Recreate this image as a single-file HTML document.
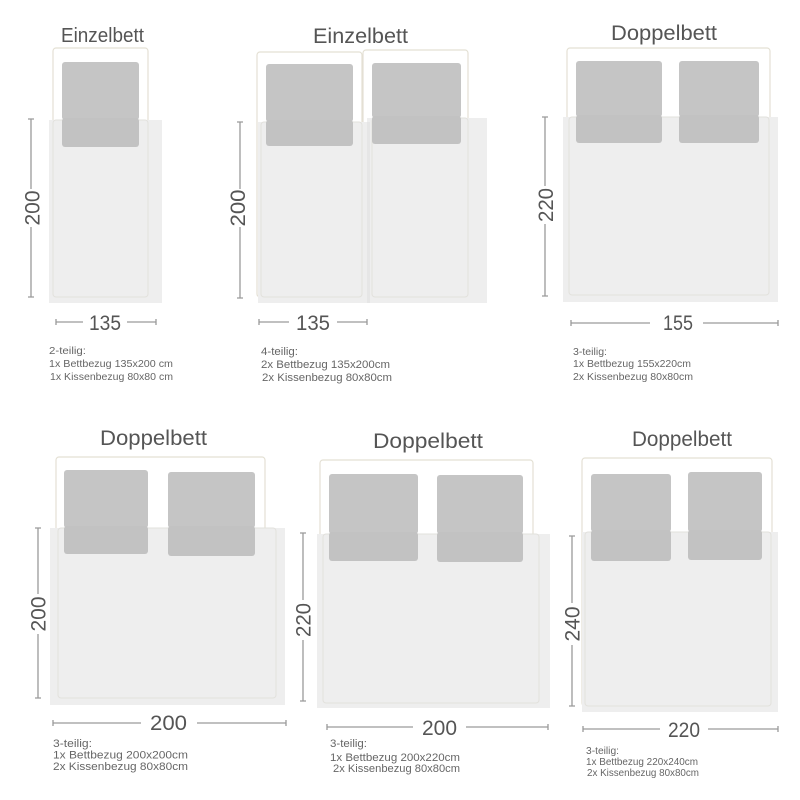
<!DOCTYPE html>
<html><head><meta charset="utf-8"><style>
html,body{margin:0;padding:0;background:#fff;}
svg{display:block;}
.t{font-family:"Liberation Sans",sans-serif;fill:#555;}
.d{font-family:"Liberation Sans",sans-serif;fill:#666;}
.fr{fill:none;stroke:#e4e0d4;stroke-width:1.2;}
.fr2{fill:none;stroke:#e2e1dc;stroke-width:1;}
.bl{fill:#eeeeee;}
.pi{fill:#c5c5c5;}
.pu{fill:#c2c2c2;}
.dm{stroke:#9a9a9a;stroke-width:1.3;fill:none;}
</style></head><body>
<svg width="800" height="800" viewBox="0 0 800 800" xmlns="http://www.w3.org/2000/svg">
<rect width="800" height="800" fill="#fff"/>

<!-- Panel 1 -->
<text class="t" x="61" y="42" font-size="20" textLength="83" lengthAdjust="spacingAndGlyphs">Einzelbett</text>
<rect class="fr" x="53" y="48" width="95" height="249" rx="3"/>
<rect class="bl" x="49" y="120" width="113" height="183"/>
<rect class="fr2" x="53" y="120" width="95" height="177" rx="3"/>
<rect class="pi" x="62" y="62" width="77" height="58" rx="3"/>
<rect class="pu" x="62" y="118" width="77" height="29" rx="3"/>
<path class="dm" d="M31 119V189M31 227V297M28 119H34M28 297H34"/>
<text class="t" font-size="21" transform="translate(39.5,208) rotate(-90)" text-anchor="middle" textLength="35" lengthAdjust="spacingAndGlyphs">200</text>
<path class="dm" d="M56 322H83M127 322H156M56 319V325M156 319V325"/>
<text class="t" x="89" y="330" font-size="21" textLength="32" lengthAdjust="spacingAndGlyphs">135</text>
<text class="d" x="49" y="354" font-size="10.5" textLength="37" lengthAdjust="spacingAndGlyphs">2-teilig:</text>
<text class="d" x="49" y="367" font-size="10.5" textLength="124" lengthAdjust="spacingAndGlyphs">1x Bettbezug 135x200 cm</text>
<text class="d" x="50" y="380" font-size="10.5" textLength="123" lengthAdjust="spacingAndGlyphs">1x Kissenbezug 80x80 cm</text>

<!-- Panel 2 -->
<text class="t" x="313" y="43" font-size="21" textLength="95" lengthAdjust="spacingAndGlyphs">Einzelbett</text>
<rect class="fr" x="257" y="52" width="105" height="245" rx="3"/>
<rect class="fr" x="363" y="50" width="105" height="247" rx="3"/>
<rect class="bl" x="258" y="122" width="112" height="181"/>
<rect class="bl" x="367" y="118" width="120" height="185"/>
<rect x="367" y="122" width="3" height="181" fill="#e6e6e6"/>
<rect class="fr2" x="261" y="122" width="101" height="175" rx="3"/>
<rect class="fr2" x="372" y="118" width="96" height="179" rx="3"/>
<rect class="pi" x="266" y="64" width="87" height="58" rx="3"/>
<rect class="pu" x="266" y="120" width="87" height="26" rx="3"/>
<rect class="pi" x="372" y="63" width="89" height="55" rx="3"/>
<rect class="pu" x="372" y="116" width="89" height="28" rx="3"/>
<path class="dm" d="M240 122V189M240 227V298M237 122H243M237 298H243"/>
<text class="t" font-size="21" transform="translate(245,208) rotate(-90)" text-anchor="middle" textLength="37" lengthAdjust="spacingAndGlyphs">200</text>
<path class="dm" d="M259 322H289M337 322H367M259 319V325M367 319V325"/>
<text class="t" x="296" y="330" font-size="21" textLength="34" lengthAdjust="spacingAndGlyphs">135</text>
<text class="d" x="261" y="355" font-size="11" textLength="37" lengthAdjust="spacingAndGlyphs">4-teilig:</text>
<text class="d" x="261" y="368" font-size="11" textLength="129" lengthAdjust="spacingAndGlyphs">2x Bettbezug 135x200cm</text>
<text class="d" x="262" y="381" font-size="11" textLength="130" lengthAdjust="spacingAndGlyphs">2x Kissenbezug 80x80cm</text>

<!-- Panel 3 -->
<text class="t" x="611" y="40" font-size="21" textLength="106" lengthAdjust="spacingAndGlyphs">Doppelbett</text>
<rect class="fr" x="567" y="48" width="203" height="247" rx="3"/>
<rect class="bl" x="563" y="117" width="215" height="185"/>
<rect class="fr2" x="569" y="117" width="200" height="178" rx="3"/>
<rect class="pi" x="576" y="61" width="86" height="56" rx="3"/>
<rect class="pu" x="576" y="115" width="86" height="28" rx="3"/>
<rect class="pi" x="679" y="61" width="80" height="56" rx="3"/>
<rect class="pu" x="679" y="115" width="80" height="28" rx="3"/>
<path class="dm" d="M545 117V186M545 224V296M542 117H548M542 296H548"/>
<text class="t" font-size="21" transform="translate(553,205) rotate(-90)" text-anchor="middle" textLength="34" lengthAdjust="spacingAndGlyphs">220</text>
<path class="dm" d="M571 323H650M703 323H778M571 320V326M778 320V326"/>
<text class="t" x="663" y="330" font-size="21" textLength="30" lengthAdjust="spacingAndGlyphs">155</text>
<text class="d" x="573" y="355" font-size="10.5" textLength="34" lengthAdjust="spacingAndGlyphs">3-teilig:</text>
<text class="d" x="573" y="367" font-size="10.5" textLength="118" lengthAdjust="spacingAndGlyphs">1x Bettbezug 155x220cm</text>
<text class="d" x="573" y="380" font-size="10.5" textLength="120" lengthAdjust="spacingAndGlyphs">2x Kissenbezug 80x80cm</text>

<!-- Panel 4 -->
<text class="t" x="100" y="445" font-size="21" textLength="107" lengthAdjust="spacingAndGlyphs">Doppelbett</text>
<rect class="fr" x="56" y="457" width="209" height="241" rx="3"/>
<rect class="bl" x="50" y="528" width="235" height="177"/>
<rect class="fr2" x="58" y="528" width="218" height="170" rx="3"/>
<rect class="pi" x="64" y="470" width="84" height="58" rx="3"/>
<rect class="pu" x="64" y="526" width="84" height="28" rx="3"/>
<rect class="pi" x="168" y="472" width="87" height="56" rx="3"/>
<rect class="pu" x="168" y="526" width="87" height="30" rx="3"/>
<path class="dm" d="M38 528V594M38 634V698M35 528H41M35 698H41"/>
<text class="t" font-size="21" transform="translate(45.5,614) rotate(-90)" text-anchor="middle" textLength="35" lengthAdjust="spacingAndGlyphs">200</text>
<path class="dm" d="M53 723H141M197 723H286M53 720V726M286 720V726"/>
<text class="t" x="150" y="730" font-size="21" textLength="37" lengthAdjust="spacingAndGlyphs">200</text>
<text class="d" x="53" y="747" font-size="11" textLength="39" lengthAdjust="spacingAndGlyphs">3-teilig:</text>
<text class="d" x="53" y="758.5" font-size="11" textLength="135" lengthAdjust="spacingAndGlyphs">1x Bettbezug 200x200cm</text>
<text class="d" x="53" y="770" font-size="11" textLength="135" lengthAdjust="spacingAndGlyphs">2x Kissenbezug 80x80cm</text>

<!-- Panel 5 -->
<text class="t" x="373" y="448" font-size="21" textLength="110" lengthAdjust="spacingAndGlyphs">Doppelbett</text>
<rect class="fr" x="320" y="460" width="213" height="243" rx="3"/>
<rect class="bl" x="317" y="534" width="233" height="174"/>
<rect class="fr2" x="323" y="534" width="216" height="169" rx="3"/>
<rect class="pi" x="329" y="474" width="89" height="60" rx="3"/>
<rect class="pu" x="329" y="532" width="89" height="29" rx="3"/>
<rect class="pi" x="437" y="475" width="86" height="59" rx="3"/>
<rect class="pu" x="437" y="532" width="86" height="30" rx="3"/>
<path class="dm" d="M303 533V600M303 640V701M300 533H306M300 701H306"/>
<text class="t" font-size="21" transform="translate(310.5,620) rotate(-90)" text-anchor="middle" textLength="34" lengthAdjust="spacingAndGlyphs">220</text>
<path class="dm" d="M327 727H413M466 727H548M327 724V730M548 724V730"/>
<text class="t" x="422" y="735" font-size="21" textLength="35" lengthAdjust="spacingAndGlyphs">200</text>
<text class="d" x="330" y="747" font-size="11" textLength="37" lengthAdjust="spacingAndGlyphs">3-teilig:</text>
<text class="d" x="330" y="761" font-size="11" textLength="130" lengthAdjust="spacingAndGlyphs">1x Bettbezug 200x220cm</text>
<text class="d" x="333" y="772" font-size="11" textLength="127" lengthAdjust="spacingAndGlyphs">2x Kissenbezug 80x80cm</text>

<!-- Panel 6 -->
<text class="t" x="632" y="446" font-size="21" textLength="100" lengthAdjust="spacingAndGlyphs">Doppelbett</text>
<rect class="fr" x="582" y="458" width="190" height="248" rx="3"/>
<rect class="bl" x="582" y="532" width="196" height="180"/>
<rect class="fr2" x="585" y="532" width="186" height="174" rx="3"/>
<rect class="pi" x="591" y="474" width="80" height="58" rx="3"/>
<rect class="pu" x="591" y="530" width="80" height="31" rx="3"/>
<rect class="pi" x="688" y="472" width="74" height="60" rx="3"/>
<rect class="pu" x="688" y="530" width="74" height="30" rx="3"/>
<path class="dm" d="M572 536V603M572 645V706M569 536H575M569 706H575"/>
<text class="t" font-size="21" transform="translate(579.5,624) rotate(-90)" text-anchor="middle" textLength="35" lengthAdjust="spacingAndGlyphs">240</text>
<path class="dm" d="M583 729H660M708 729H778M583 726V732M778 726V732"/>
<text class="t" x="668" y="737" font-size="21" textLength="32" lengthAdjust="spacingAndGlyphs">220</text>
<text class="d" x="586" y="754" font-size="10" textLength="33" lengthAdjust="spacingAndGlyphs">3-teilig:</text>
<text class="d" x="586" y="765" font-size="10" textLength="112" lengthAdjust="spacingAndGlyphs">1x Bettbezug 220x240cm</text>
<text class="d" x="587" y="776" font-size="10" textLength="112" lengthAdjust="spacingAndGlyphs">2x Kissenbezug 80x80cm</text>
</svg>
</body></html>
